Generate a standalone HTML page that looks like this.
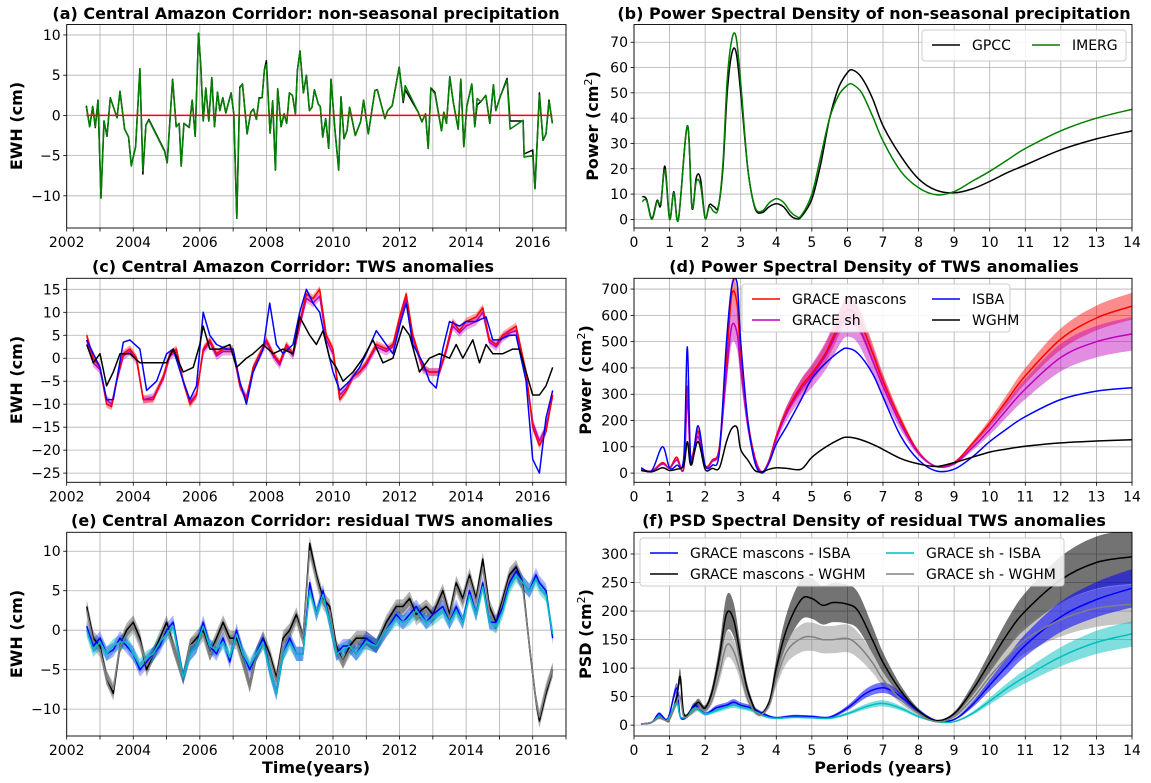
<!DOCTYPE html>
<html><head><meta charset="utf-8">
<style>
html,body{margin:0;padding:0;background:#fff;}
svg{display:block;font-family:"DejaVu Sans","Liberation Sans",sans-serif;}
.tk{font-size:14px;fill:#000;}
.ttl{font-size:16px;font-weight:bold;fill:#000;}
.lbl{font-size:16px;font-weight:bold;fill:#000;}
.lg{font-size:14px;fill:#000;}
</style></head>
<body>
<svg id="fig" width="1151" height="783" viewBox="0 0 1151 783"></svg>
<script>
// ---------- Panel (a) data ----------
const precipT=[2002.59,2002.69,2002.78,2002.86,2002.94,2003.03,2003.12,2003.21,2003.31,2003.51,2003.6,2003.74,2003.86,2003.94,2004.07,2004.2,2004.29,2004.38,2004.47,2004.94,2005.02,2005.18,2005.29,2005.38,2005.44,2005.52,2005.68,2005.77,2005.86,2005.96,2006.03,2006.1,2006.18,2006.27,2006.36,2006.44,2006.53,2006.6,2006.69,2006.78,2006.94,2007.02,2007.11,2007.2,2007.28,2007.42,2007.53,2007.61,2007.7,2007.78,2007.87,2007.94,2008.0,2008.11,2008.19,2008.27,2008.34,2008.44,2008.53,2008.61,2008.69,2008.78,2008.87,2008.93,2009.01,2009.11,2009.2,2009.29,2009.37,2009.44,2009.56,2009.62,2009.69,2009.78,2009.87,2009.94,2010.06,2010.17,2010.24,2010.33,2010.42,2010.5,2010.67,2010.83,2010.92,2011.06,2011.26,2011.33,2011.56,2011.64,2011.78,2011.99,2012.11,2012.17,2012.56,2012.67,2012.78,2012.86,2012.94,2013.06,2013.26,2013.33,2013.41,2013.51,2013.61,2013.76,2013.84,2013.93,2014.02,2014.17,2014.26,2014.33,2014.44,2014.59,2014.71,2014.82,2014.89,2015.02,2015.23,2015.32,2015.71,2015.74,2016.0,2016.07,2016.2,2016.31,2016.4,2016.49,2016.59];
const imergV=[1.1,-1.4,1.1,-1.4,1.9,-10.3,-0.7,-2.6,2.2,-0.3,3.0,-1.7,-2.7,-6.3,-3.9,5.8,-6.9,-1.2,-0.6,-4.5,-5.9,4.5,-1.4,-1.0,-6.3,-1.0,-1.5,1.9,-2.6,10.2,6.2,-0.7,3.4,-0.7,4.7,-1.4,2.9,0.6,2.2,0.3,2.8,0.2,-12.8,3.4,3.9,-2.3,0.4,0.8,-0.5,2.1,2.2,5.7,6.3,-2.2,1.8,-6.8,3.3,-1.4,0.2,-1.0,2.8,2.5,0.2,5.6,8.0,2.8,5.0,0.6,1.0,3.2,1.4,1.1,-2.7,-0.4,-4.1,4.5,-1.9,-6.8,2.3,-2.9,-1.9,1.0,-2.5,-0.8,1.9,-2.3,3.1,3.2,-0.4,0.6,1.2,6.0,1.9,3.7,0.4,-0.8,0.2,-4.1,3.3,2.7,-1.9,0.4,-1.0,4.8,1.7,-1.7,4.5,-3.9,1.1,3.9,-1.4,2.1,1.7,2.5,-1.0,3.8,0.6,2.3,4.4,-1.7,-0.6,-5.2,-5.0,-9.1,2.5,-3.1,-2.3,1.7,-1.0];
const gpccV=[1.2,-1.4,1.1,-1.5,1.9,-10.2,-0.7,-2.6,2.2,-0.3,3.0,-1.7,-2.7,-6.2,-3.9,5.8,-7.3,-1.2,-0.5,-4.4,-5.9,4.5,-1.4,-1.0,-6.3,-1.0,-1.5,1.9,-2.6,10.2,6.2,-0.7,3.4,-0.7,4.7,-1.4,2.9,0.6,2.2,0.3,2.8,0.2,-12.8,3.5,3.9,-2.3,0.4,0.8,-0.5,2.2,2.2,5.7,6.8,-2.2,1.8,-6.8,3.3,-1.4,0.2,-1.0,2.8,2.5,0.2,5.6,8.0,2.8,5.0,0.6,1.0,3.2,1.4,1.1,-2.7,-0.4,-4.1,4.5,-1.9,-6.8,2.3,-2.9,-1.9,1.0,-2.5,-0.8,1.9,-2.3,3.1,3.2,-0.4,0.6,1.2,6.0,1.6,3.2,0.4,-0.8,0.2,-4.1,3.4,2.9,-1.9,0.4,-1.0,4.8,1.7,-1.7,4.5,-3.9,1.1,3.9,-1.4,1.3,1.7,2.5,-1.0,3.8,0.6,2.3,4.6,-0.7,-0.7,-4.8,-4.3,-9.1,2.8,-3.1,-2.3,1.9,-1.0];
// ---------- Panel (b) data ----------
const pB=[0.23,0.35,0.5,0.65,0.75,0.87,1.0,1.12,1.25,1.5,1.63,1.75,1.87,2.0,2.12,2.25,2.37,2.5,2.62,2.75,2.87,3.0,3.2,3.4,3.6,3.8,4.0,4.2,4.4,4.55,4.7,5.0,5.25,5.5,5.75,6.0,6.15,6.4,6.7,7.0,7.5,8.0,8.5,9.0,9.5,10,10.5,11,12,13,14];
const gpccPSD=[9,8,0.5,7.5,5.5,21,0.3,11,0.3,37,4.5,16.5,16,0.5,5.8,5,5,20,50,65.5,66,50,20,4.5,2.7,5,6.2,5,1.5,0.3,1,8,22,40,52,58,59,56,48,37,25,16,11.5,10.5,12,15,18.5,21.5,27.5,31.8,35];
const imergPSD=[7,7.5,0,7,6.5,19.5,0,10.5,0,37,5,15,13.5,0.5,5,3,4.5,22,55,71,72,54,20,5,3.3,6.5,8.2,6.8,3,1.3,1.5,10,25,40,49,53,53.3,50,41,31,19,12.5,9.7,11,15,19,23.5,28,35,40,43.5];
// ---------- Panel (c) data ----------
const tC=[2002.6,2002.8,2003.0,2003.2,2003.35,2003.5,2003.7,2003.9,2004.1,2004.3,2004.6,2004.9,2005.1,2005.3,2005.5,2005.7,2005.9,2006.1,2006.3,2006.5,2006.7,2007.0,2007.2,2007.4,2007.6,2007.8,2008.0,2008.2,2008.4,2008.6,2008.8,2009.0,2009.2,2009.4,2009.6,2009.8,2010.0,2010.2,2010.4,2010.6,2010.8,2011.0,2011.3,2011.6,2011.8,2012.0,2012.2,2012.4,2012.7,2012.9,2013.2,2013.4,2013.6,2013.8,2014.0,2014.3,2014.5,2014.7,2014.9,2015.1,2015.3,2015.5,2015.8,2016.0,2016.2,2016.4,2016.6];
const mascC=[5,0,-2,-10,-10.5,-5,1,2,0,-9,-9,-4,1,2,-5,-10,-8,2,4,1,2,2,-6,-9,-2,1,4,1,-1,3,1,8,14,13,15,5,2,-9,-7,-4,-3,-1,3,2,3,9,14,5,-2,-3,-3,2,8,6,8,9,11,4,3,5,6,7,-3,-15,-19,-16,-8];
const shC=[4,-1,-2.5,-9,-10,-5,0.5,1.5,-0.5,-9,-8.5,-4.5,0.5,1.5,-5,-9.5,-8,1.5,3.5,0.5,1.5,1.5,-6,-8.5,-2.5,0.5,3.5,0.5,-1.5,2.5,0.5,7,13,12,13.5,4,1,-8,-6.5,-4,-3,-1.5,2.5,1.5,2.5,8,13,4.5,-2.5,-3,-3,1.5,7,5.5,7,8,10,3.5,2.5,4.5,5.5,6,-3.5,-14,-18,-15,-8];
const tIsba=[2002.6,2003.0,2003.2,2003.4,2003.7,2003.9,2004.2,2004.4,2004.7,2005.0,2005.2,2005.5,2005.7,2005.9,2006.1,2006.3,2006.5,2006.8,2007.0,2007.2,2007.4,2007.6,2007.9,2008.1,2008.3,2008.5,2008.8,2009.0,2009.2,2009.4,2009.6,2009.8,2010.0,2010.2,2010.5,2010.8,2011.0,2011.3,2011.5,2011.8,2012.0,2012.2,2012.4,2012.7,2012.9,2013.1,2013.3,2013.5,2013.8,2014.0,2014.3,2014.6,2014.8,2015.0,2015.3,2015.5,2015.8,2016.0,2016.2,2016.4,2016.6];
const isbaC=[4,-2,-9,-9,3.5,4,2,-7,-5,1,2,-5,-9,-6,10,5,3,2,2,-5,-10,-3,2,12,3,1,3,10,15,12,10,3,-3,-7,-5,-2,1,6,4,1,7,12,3,-1,-5,-6.5,2,8,7,8,8,9,4,4,5,5,-5,-22,-25,-13,-7];
const tWghm=[2002.6,2002.8,2003.0,2003.2,2003.4,2003.6,2003.9,2004.2,2004.5,2004.8,2005.0,2005.2,2005.5,2005.8,2006.0,2006.1,2006.3,2006.6,2006.9,2007.1,2007.4,2007.6,2007.9,2008.2,2008.5,2008.8,2009.0,2009.3,2009.5,2009.7,2009.9,2010.1,2010.3,2010.6,2010.9,2011.2,2011.5,2011.8,2012.1,2012.3,2012.6,2012.9,2013.2,2013.5,2013.7,2013.9,2014.2,2014.4,2014.6,2014.8,2015.1,2015.4,2015.6,2015.8,2016.0,2016.2,2016.4,2016.6];
const wghmC=[3,-1,1,-6,-3,1,1,-1,-1,-1,-1,2,-3,-2,3,7,2,2,3,-2,0,1,3,1,2,1,9,5,3,6,0,-2,-5,-3,0,4,-1,0,7,5,-3,0,1,0,3,0,4,-1,3,1,1,2,2,-3,-8,-8,-6,-2];
// ---------- Panel (d) data ----------
const pD=[0.2,0.5,0.8,1.0,1.2,1.4,1.5,1.6,1.8,2.0,2.2,2.4,2.6,2.75,2.9,3.0,3.2,3.4,3.6,3.8,4.0,4.3,4.7,5.0,5.4,5.8,6.0,6.3,6.7,7.0,7.5,8.0,8.5,9.0,9.5,10,10.5,11,12,13,14];
const mascD=[15,8,40,20,60,20,330,60,160,30,50,100,430,680,640,450,200,60,5,50,140,240,330,380,460,580,620,590,460,350,200,80,25,40,110,190,280,370,510,590,635];
const shD=[12,6,35,18,50,18,280,50,140,25,45,90,380,560,530,400,180,50,5,45,130,230,320,370,450,560,590,560,430,330,185,75,25,35,95,165,245,320,440,500,530];
const isbaD=[20,10,100,20,30,60,480,40,180,30,30,80,500,710,720,500,200,40,0,40,110,180,280,360,420,465,475,455,380,290,140,50,8,15,60,120,170,215,280,312,325];
const wghmD=[10,5,20,10,15,30,120,30,120,15,18,20,120,170,172,90,50,10,5,15,20,18,15,60,100,130,137,130,110,90,55,35,25,40,60,80,92,102,115,122,127];
const errD=[0.08,0.12];
// ---------- Panel (e) data ----------
const tE=[2002.6,2002.8,2003.0,2003.2,2003.4,2003.6,2003.8,2004.0,2004.2,2004.4,2004.6,2004.8,2005.0,2005.2,2005.5,2005.7,2005.9,2006.1,2006.3,2006.5,2006.7,2006.9,2007.1,2007.3,2007.5,2007.7,2007.9,2008.1,2008.3,2008.5,2008.7,2008.9,2009.1,2009.3,2009.5,2009.7,2009.9,2010.1,2010.3,2010.5,2010.7,2011.0,2011.3,2011.6,2011.9,2012.1,2012.3,2012.5,2012.8,2013.0,2013.3,2013.5,2013.7,2013.9,2014.1,2014.3,2014.5,2014.7,2014.9,2015.1,2015.3,2015.5,2015.7,2015.9,2016.1,2016.2,2016.4,2016.6];
const mIsbaE=[0.5,-2,-1,-3,-2.5,-1,-2,-3,-5,-4,-3,-2,0,1,-6,-3,-2,1,-2,-3,-1,-4,0,-3,-5,-3,-1,-5,-8,-3,-1,-3,-3,6,2,5,1,-3,-2,-2,-3,-1,-2,0,2,1,2,3,1,2,3,1,3,1,5,2,6,1,1,3,6,7.5,6,5,7,6,5,-1];
const mWghmE=[3,-1,-2,-6,-8,-2,0,1,-1,-5,-3,-1,1,-2,-6,-2,-1,0,-3,-1,1,-1,-1,-4,-7,-3,-1,-3,-6,-1,0,2,-1,11,7,4,3,-2,-4,-2,-1,-1,-2,1,3,3,4,2,3,2,5,2,6,4,7,4,9,3,1,4,7,8,6,-2,-9,-11.5,-8,-5];
const sIsbaE=[0,-2.5,-1.5,-3,-2,-1.5,-1.5,-3,-4.5,-3.5,-3,-1.5,-0.5,0.5,-6,-3,-2,0.5,-2,-2.5,-1.5,-3.5,-0.5,-3,-4.5,-3,-1.5,-5,-8,-3,-1.5,-3,-3,5,2,4.5,1,-3,-2.5,-2,-3,-1.5,-2,0,1.5,1,1.5,2.5,1,1.5,2.5,1,2.5,1,4.5,2,5.5,1,0.5,2.5,5.5,7,6,5,6.5,5.5,4.5,-0.5];
const sWghmE=[2.5,-1.5,-2.5,-6,-7.5,-2,-0.5,0.5,-1.5,-4.5,-3,-1.5,0.5,-2,-6,-2,-1.5,-0.5,-3,-1.5,0.5,-1.5,-1.5,-4,-7,-3,-1.5,-3.5,-6.5,-1.5,-0.5,1.5,-1,10,6.5,3.5,2.5,-2.5,-4,-2.5,-1.5,-1.5,-2,0.5,2.5,2.5,3.5,1.5,2.5,1.5,4.5,1.5,5.5,3.5,6.5,3.5,8,2.5,0.5,3.5,6.5,7.5,5.5,-2,-9,-11,-7.5,-5];
const errE=[0.9,0.9,0.9,0.9];
// ---------- Panel (f) data ----------
const pF1=[0.2,0.5,0.7,0.9,1.0,1.2,1.3,1.5,1.7,2.0,2.3,2.6,2.8,3.0,3.3,3.7,4.0,4.5,5.0,5.5,6.0,6.5,6.9,7.2,7.6,8.0,8.5,9.0,9.5,10,10.5,11,12,13,14];
const mIsbaF=[2,5,20,10,20,65,15,15,35,20,30,35,40,35,30,18,13,16,15,14,30,55,65,62,45,25,8,10,35,70,105,140,190,220,240];
const sIsbaF=[2,5,15,8,15,40,15,15,30,20,25,32,35,32,27,15,12,14,13,12,20,32,38,36,27,15,6,6,20,42,65,85,120,145,160];
const pF2=[0.2,0.5,0.7,0.9,1.0,1.2,1.3,1.4,1.6,1.8,2.0,2.2,2.4,2.6,2.8,3.0,3.2,3.5,3.8,4.0,4.3,4.7,5.0,5.3,5.6,6.0,6.3,6.7,7.0,7.5,8.0,8.5,9.0,9.5,10,10.5,11,12,13,14];
const mWghmF=[2,5,15,8,10,50,85,20,25,40,30,60,120,195,185,120,60,20,40,100,170,220,222,210,215,212,200,150,110,60,25,8,20,60,110,160,200,255,285,295];
const sWghmF=[2,5,12,8,10,40,50,15,20,30,25,45,90,140,130,90,45,18,35,80,130,152,155,150,150,152,140,110,80,45,20,6,15,45,85,120,150,185,205,212];
const errF=[0.14,0.16,0.14,0.16];

// ---------- tick arrays ----------
const yearTicks=[2002,2003,2004,2005,2006,2007,2008,2009,2010,2011,2012,2013,2014,2015,2016,2017];
const yearLabels=[2002,2004,2006,2008,2010,2012,2014,2016];
const perTicks=[0,1,2,3,4,5,6,7,8,9,10,11,12,13,14];
const yTA=[-10,-5,0,5,10], yTB=[0,10,20,30,40,50,60,70], yTC=[-25,-20,-15,-10,-5,0,5,10,15];
const yTD=[0,100,200,300,400,500,600,700], yTE=[-10,-5,0,5,10], yTF=[0,50,100,150,200,250,300];

const NS='http://www.w3.org/2000/svg';
const fig=document.getElementById('fig');
function mk(tag,attrs,parent){const e=document.createElementNS(NS,tag);for(const k in attrs)e.setAttribute(k,attrs[k]);(parent||fig).appendChild(e);return e;}
function fmt(v){return v<0?'\u2212'+Math.abs(v):String(v);}

function makeAxes(name,L,R,T,B,x0,x1,y0,y1,xt,xl,yt){
  const g=mk('g',{});
  
  
  const sx=v=>L+(v-x0)/(x1-x0)*(R-L);
  const sy=v=>B-(v-y0)/(y1-y0)*(B-T);
  const grid=mk('g',{},g);
  
  
  xt.forEach(v=>{const x=sx(v);mk('line',{x1:x,x2:x,y1:T,y2:B,stroke:'#b0b0b0','stroke-width':0.8},grid);
    mk('line',{x1:x,x2:x,y1:B,y2:B+3.5,stroke:'#000','stroke-width':0.8},g);});
  xl.forEach(v=>{const t=mk('text',{x:sx(v),y:B+19,'text-anchor':'middle',class:'tk'},g);t.textContent=v;
    
    });
  yt.forEach(v=>{const y=sy(v);mk('line',{x1:L,x2:R,y1:y,y2:y,stroke:'#b0b0b0','stroke-width':0.8},grid);
    mk('line',{x1:L-3.5,x2:L,y1:y,y2:y,stroke:'#000','stroke-width':0.8},g);
    const t=mk('text',{x:L-6,y:y+5,'text-anchor':'end',class:'tk'},g);t.textContent=fmt(v);
    
    });
  const clipId='c'+name;
  const cp=mk('clipPath',{id:clipId},g);mk('rect',{x:L,y:T,width:R-L,height:B-T},cp);
  const plot=mk('g',{'clip-path':'url(#'+clipId+')'},g);
  return {g,plot,sx,sy,L,R,T,B};
}
function frame(ax){const r=mk('rect',{x:ax.L,y:ax.T,width:ax.R-ax.L,height:ax.B-ax.T,fill:'none',stroke:'#000','stroke-width':0.9},ax.g);
  
  }
// path builder: linear, or Catmull-Rom smoothed
function pathD(pts,smooth,start){
  let d=(start||'M')+pts[0][0].toFixed(1)+','+pts[0][1].toFixed(1);
  for(let i=1;i<pts.length;i++){
    const p1=pts[i-1],p2=pts[i];
    if(!smooth){d+='L'+p2[0].toFixed(1)+','+p2[1].toFixed(1);continue;}
    const p0=pts[i-2]||p1,p3=pts[i+1]||p2;
    const c1=[p1[0]+(p2[0]-p0[0])/6,p1[1]+(p2[1]-p0[1])/6];
    const c2=[p2[0]-(p3[0]-p1[0])/6,p2[1]-(p3[1]-p1[1])/6];
    d+='C'+c1[0].toFixed(1)+','+c1[1].toFixed(1)+' '+c2[0].toFixed(1)+','+c2[1].toFixed(1)+' '+p2[0].toFixed(1)+','+p2[1].toFixed(1);
  }
  return d;
}
function line(ax,xs,ys,color,name,sm){
  const pts=xs.map((x,i)=>[ax.sx(x),ax.sy(ys[i])]);
  const p=mk('path',{d:pathD(pts,sm),fill:'none',stroke:color,'stroke-width':1.5,'stroke-linejoin':'round'},ax.plot);
  
  
}
function band(ax,xs,lo,hi,color,op,name,sm){
  const top=xs.map((x,i)=>[ax.sx(x),ax.sy(hi[i])]);
  const bot=xs.map((x,i)=>[ax.sx(x),ax.sy(lo[i])]).reverse();
  const d=pathD(top,sm)+pathD(bot,sm,'L')+'Z';
  const p=mk('path',{d,fill:color,'fill-opacity':op,stroke:'none'},ax.plot);
  
  
}
function title(txt,x,y,name){const t=mk('text',{x,y,'text-anchor':'middle',class:'ttl'});t.textContent=txt;
  
  }
function ylab(txt,x,y,name,sup){const t=mk('text',{x,y,'text-anchor':'middle',class:'lbl',transform:'rotate(-90 '+x+' '+y+')'});
  
  
  if(sup){t.appendChild(document.createTextNode(txt+' (cm'));const s=mk('tspan',{dy:-6,'font-size':'11px','font-weight':'normal'},t);s.textContent='2';const e=mk('tspan',{dy:6},t);e.textContent=')';}
  else t.textContent=txt;}
function xlab(txt,x,y,name){const t=mk('text',{x,y,'text-anchor':'middle',class:'lbl'});t.textContent=txt;
  
  }
function legend(x,y,w,h,items,cols,colW,name){
  const g=mk('g',{});
  
  
  mk('rect',{x,y,width:w,height:h,rx:3,fill:'#fff','fill-opacity':0.85,stroke:'#ccc'},g);
  items.forEach((it,i)=>{const c=i%cols,r=Math.floor(i/cols);const lx=x+10+c*colW,ly=y+15+r*21;
    const e=mk('g',{},g);
    
    
    mk('line',{x1:lx,x2:lx+28,y1:ly,y2:ly,stroke:it[1],'stroke-width':1.5},e);
    const t=mk('text',{x:lx+40,y:ly+5,class:'lg'},e);t.textContent=it[0];});
}
const lo=(a,e)=>a.map(v=>v-e), hi=(a,e)=>a.map(v=>v+e);
const flo=(a,f)=>a.map(v=>v*(1-f)), fhi=(a,f)=>a.map(v=>v*(1+f));

// Panel A
const A=makeAxes('panel-a',66.7,566,24.5,228,2002,2017,-14,11.3,yearTicks,yearLabels,yTA);
line(A,precipT,gpccV,'#000','gpcc-line');
line(A,precipT,imergV,'#007f00','imerg-line');
line(A,[2002.59,2016.59],[0,0],'#ff0000','zero-line');
frame(A);
title('(a) Central Amazon Corridor: non-seasonal precipitation',306,19,'title-a');
ylab('EWH (cm)',22,126,'y-axis-title-a');

// Panel B
const Bx=makeAxes('panel-b',634,1132,24.5,228,0,14,-3.4,77,perTicks,perTicks,yTB);
line(Bx,pB,gpccPSD,'#000','gpcc-psd',true);
line(Bx,pB,imergPSD,'#007f00','imerg-psd',true);
frame(Bx);
legend(922,30,204,31,[['GPCC','#000'],['IMERG','#007f00']],2,100,'legend-b');
title('(b) Power Spectral Density of non-seasonal precipitation',874,19,'title-b');
ylab('Power',598,126,'y-axis-title-b',true);

// Panel C
const C=makeAxes('panel-c',66.7,566,278.3,482.3,2002,2017,-27,17.4,yearTicks,yearLabels,yTC);
band(C,tC,lo(mascC,0.8),hi(mascC,0.8),'#ff0000',0.35,'mascons-band');
band(C,tC,lo(shC,0.9),hi(shC,0.9),'#bf00bf',0.35,'sh-band');
line(C,tC,shC,'#bf00bf','grace-sh-line');
line(C,tC,mascC,'#ff0000','grace-mascons-line');
line(C,tIsba,isbaC,'#0000ff','isba-line');
line(C,tWghm,wghmC,'#000','wghm-line');
frame(C);
title('(c) Central Amazon Corridor: TWS anomalies',293,272,'title-c');
ylab('EWH (cm)',22,380,'y-axis-title-c');

// Panel D
const D=makeAxes('panel-d',634,1132,278.3,482.3,0,14,-35,741,perTicks,perTicks,yTD);
band(D,pD,flo(mascD,errD[0]),fhi(mascD,errD[0]),'#ff0000',0.45,'mascons-psd-band',true);
band(D,pD,flo(shD,errD[1]),fhi(shD,errD[1]),'#bf00bf',0.45,'sh-psd-band',true);
line(D,pD,mascD,'#ff0000','grace-mascons-psd',true);
line(D,pD,shD,'#bf00bf','grace-sh-psd',true);
line(D,pD,isbaD,'#0000ff','isba-psd',true);
line(D,pD,wghmD,'#000','wghm-psd',true);
frame(D);
legend(742,284,268,48,[['GRACE mascons','#ff0000'],['ISBA','#0000ff'],['GRACE sh','#bf00bf'],['WGHM','#000']],2,180,'legend-d');
title('(d) Power Spectral Density of TWS anomalies',874,272,'title-d');
ylab('Power',591,380,'y-axis-title-d',true);

// Panel E
const E=makeAxes('panel-e',66.7,566,532.3,736,2002,2017,-13.4,12.4,yearTicks,yearLabels,yTE);
band(E,tE,lo(sWghmE,errE[3]),hi(sWghmE,errE[3]),'#808080',0.45,'sh-wghm-band');
band(E,tE,lo(mWghmE,errE[1]),hi(mWghmE,errE[1]),'#000',0.3,'mascons-wghm-band');
band(E,tE,lo(sIsbaE,errE[2]),hi(sIsbaE,errE[2]),'#00bfbf',0.45,'sh-isba-band');
band(E,tE,lo(mIsbaE,errE[0]),hi(mIsbaE,errE[0]),'#0000ff',0.3,'mascons-isba-band');
line(E,tE,mWghmE,'#000','mascons-wghm-line');
line(E,tE,sWghmE,'#808080','sh-wghm-line');
line(E,tE,mIsbaE,'#0000ff','mascons-isba-line');
line(E,tE,sIsbaE,'#00bfbf','sh-isba-line');
frame(E);
title('(e) Central Amazon Corridor: residual TWS anomalies',312,526,'title-e');
ylab('EWH (cm)',22,634,'y-axis-title-e');
xlab('Time(years)',316,773,'x-axis-title-e');

// Panel F
const F=makeAxes('panel-f',634,1132,532.3,736,0,14,-19,338,perTicks,perTicks,yTF);
band(F,pF2,flo(mWghmF,errF[1]),fhi(mWghmF,errF[1]),'#000',0.55,'mascons-wghm-psd-band',true);
band(F,pF2,flo(sWghmF,errF[3]),fhi(sWghmF,errF[3]),'#808080',0.45,'sh-wghm-psd-band',true);
band(F,pF1,flo(mIsbaF,errF[0]),fhi(mIsbaF,errF[0]),'#0000ff',0.55,'mascons-isba-psd-band',true);
band(F,pF1,flo(sIsbaF,errF[2]),fhi(sIsbaF,errF[2]),'#00bfbf',0.5,'sh-isba-psd-band',true);
line(F,pF1,mIsbaF,'#0000ff','mascons-isba-psd',true);
line(F,pF2,mWghmF,'#000','mascons-wghm-psd',true);
line(F,pF1,sIsbaF,'#00bfbf','sh-isba-psd',true);
line(F,pF2,sWghmF,'#808080','sh-wghm-psd',true);
frame(F);
legend(640,538,424,48,[['GRACE mascons - ISBA','#0000ff'],['GRACE sh - ISBA','#00bfbf'],['GRACE mascons - WGHM','#000'],['GRACE sh - WGHM','#808080']],2,236,'legend-f');
title('(f) PSD Spectral Density of residual TWS anomalies',874,526,'title-f');
ylab('PSD',591,634,'y-axis-title-f',true);
xlab('Periods (years)',883,773,'x-axis-title-f');
</script>
</body></html>
